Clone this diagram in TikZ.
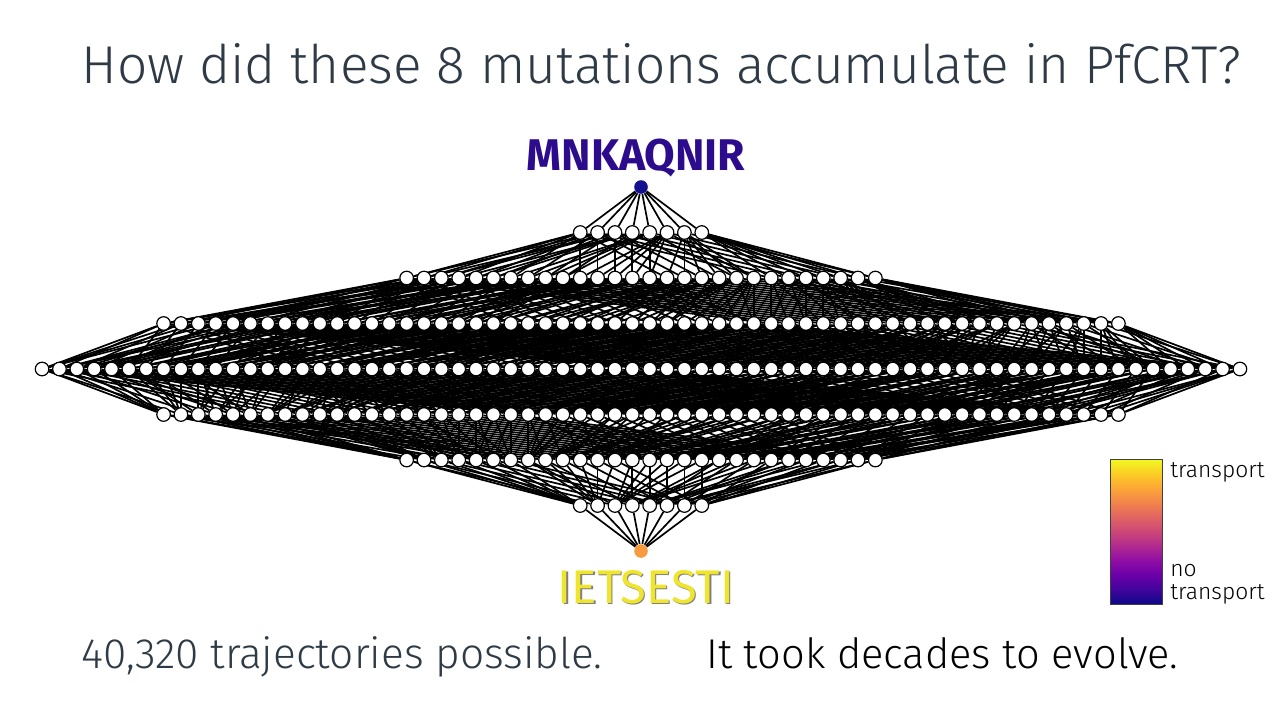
\documentclass[tikz,border=0pt]{standalone}
\usepackage{fontspec}
\setmainfont{Fira Sans}
\newfontfamily\lightfont{Fira Sans Light}

\definecolor{slate}{HTML}{2E3A45}
\definecolor{topcol}{HTML}{14118F}
\definecolor{botcol}{HTML}{F89A3E}
\definecolor{mnkcol}{HTML}{2C0C8C}
\definecolor{ietcol}{HTML}{EFE52C}
\definecolor{pl0}{HTML}{0D0887}
\definecolor{pl1}{HTML}{41049D}
\definecolor{pl2}{HTML}{6A00A8}
\definecolor{pl3}{HTML}{8F0DA4}
\definecolor{pl4}{HTML}{B12A90}
\definecolor{pl5}{HTML}{CC4778}
\definecolor{pl6}{HTML}{E16462}
\definecolor{pl7}{HTML}{F2844B}
\definecolor{pl8}{HTML}{FCA636}
\definecolor{pl9}{HTML}{FCCE25}
\definecolor{pl10}{HTML}{F0F921}

\pgfdeclarelayer{background}
\pgfsetlayers{background,main}
\pgfdeclareverticalshading{plasma}{100bp}{color(0bp)=(pl0); color(25bp)=(pl0); color(30bp)=(pl1); color(35bp)=(pl2); color(40bp)=(pl3); color(45bp)=(pl4); color(50bp)=(pl5); color(55bp)=(pl6); color(60bp)=(pl7); color(65bp)=(pl8); color(70bp)=(pl9); color(75bp)=(pl10); color(100bp)=(pl10)}

\newcount\tmpn
\newcount\bitcnt
\newcount\rk

\begin{document}
\begin{tikzpicture}[x=0.5pt,y=-0.5pt,
	vert/.style={circle,draw=black,fill=white,line width=0.6pt,minimum size=6.8pt,inner sep=0pt},
	topv/.style={circle,fill=topcol,minimum size=6.8pt,inner sep=0pt},
	botv/.style={circle,fill=botcol,minimum size=6.8pt,inner sep=0pt},
	edge/.style={line width=0.85pt,black},
	label/.style={inner sep=0pt,anchor=base west}]
	\useasboundingbox (0,0) rectangle (1280,720);

	% Text Node
	\node[label,font=\lightfont\fontsize{26.6}{30}\selectfont,text=slate] (title) at (81,83) {How did these 8 mutations accumulate in PfCRT?};

	% hypercube: one node per genotype, layer = number of mutations
	\foreach \i in {0,...,8}{\expandafter\xdef\csname lc\i\endcsname{0}}
	\foreach \n in {0,...,255}{
		\tmpn=\n \bitcnt=0
		\loop\ifnum\tmpn>0 \ifodd\tmpn \advance\bitcnt by 1 \fi \divide\tmpn by 2 \repeat
		\rk=\csname lc\the\bitcnt\endcsname\relax
		\advance\rk by 1
		\expandafter\xdef\csname lc\the\bitcnt\endcsname{\the\rk}
		\pgfmathsetmacro{\bn}{{1,8,28,56,70,56,28,8,1}[\the\bitcnt]}
		\pgfmathsetmacro{\xx}{641+(\the\rk-(\bn+1)/2)*17.36}
		\pgfmathsetmacro{\yy}{187+45.5*\the\bitcnt}
		\def\sty{vert}
		\ifnum\n=0 \def\sty{topv}\fi
		\ifnum\n=255 \def\sty{botv}\fi
		\node[\sty] (v\n) at (\xx,\yy) {};
	}

	% Connection
	\begin{pgfonlayer}{background}
	\foreach \n in {0,...,255}{
		\foreach \p in {1,2,4,8,16,32,64,128}{
			\pgfmathtruncatemacro{\bt}{mod(floor(\n/\p),2)}
			\ifnum\bt=0
				\pgfmathtruncatemacro{\m}{\n+\p}
				\draw[edge] (v\n) -- (v\m);
			\fi
		}
	}
	\end{pgfonlayer}

	% Text Node
	\node[inner sep=0pt,anchor=base,font=\bfseries\fontsize{22.2}{24}\selectfont,text=mnkcol] (start) at (636,170) {MNKAQNIR};
	\node[inner sep=0pt,anchor=base,font=\fontsize{23.6}{26}\selectfont,text=gray] (endshadow) at (647.2,604.2) {IETSESTI};
	\node[inner sep=0pt,anchor=base,font=\fontsize{23.6}{26}\selectfont,text=ietcol] (end) at (646,603) {IETSESTI};

	% colour bar
	\node[draw=black!75,line width=0.5pt,shading=plasma,minimum width=26pt,minimum height=72.5pt,inner sep=0pt] (cbar) at (1136,531.5) {};
	\node[label,font=\lightfont\fontsize{11.4}{12}\selectfont] (hi) at (1170,477) {transport};
	\node[label,font=\lightfont\fontsize{11.4}{12}\selectfont] (lo1) at (1170,576) {no};
	\node[label,font=\lightfont\fontsize{11.4}{12}\selectfont] (lo2) at (1170,599) {transport};

	% Text Node
	\node[label,font=\lightfont\fontsize{21.2}{24}\selectfont,text=slate] (count) at (81,668) {40,320 trajectories possible.};
	\node[label,font=\lightfont\fontsize{20.8}{24}\selectfont,text=black] (decades) at (706,668) {It took decades to evolve.};
\end{tikzpicture}
\end{document}
